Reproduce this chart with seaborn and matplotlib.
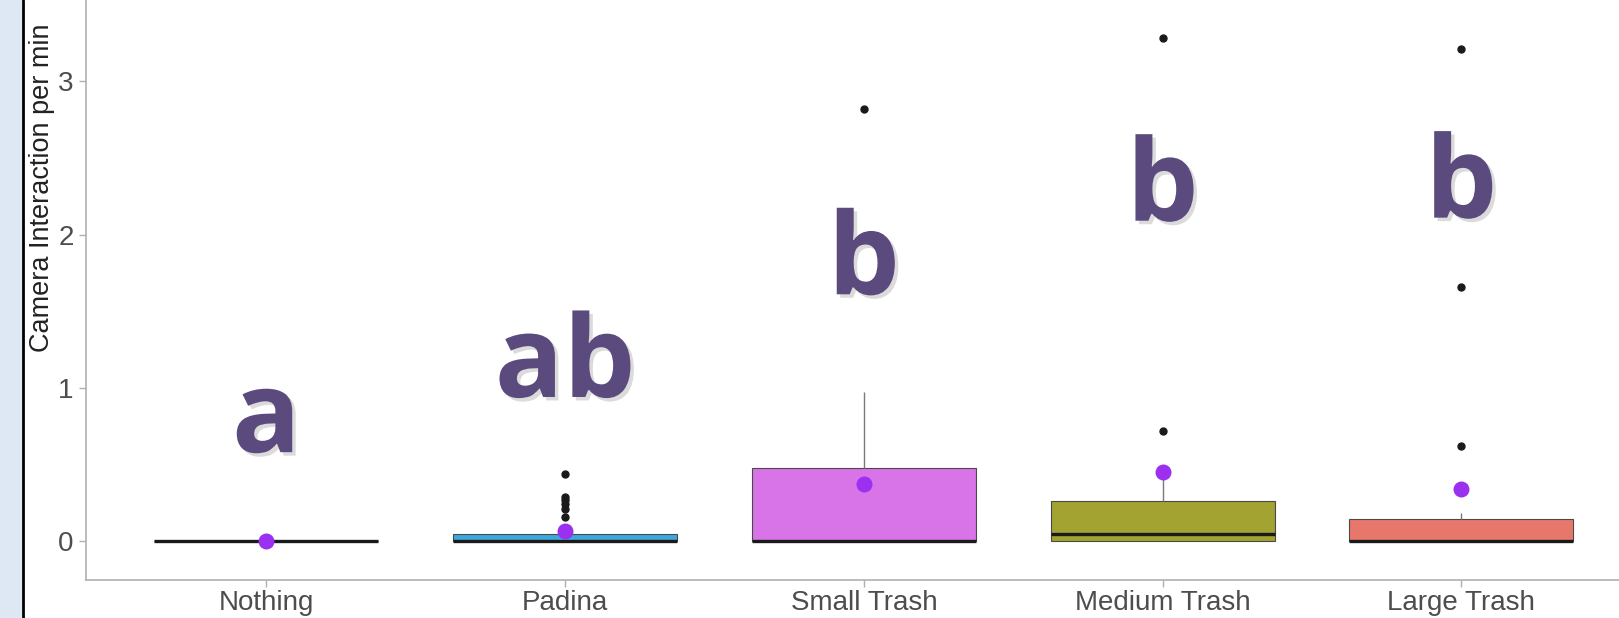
import matplotlib
matplotlib.use('Agg')
import matplotlib.pyplot as plt
import matplotlib.patheffects as pe
from matplotlib.patches import Rectangle
from matplotlib.lines import Line2D
import pandas as pd
import seaborn as sns

# Data
categories = ['Nothing', 'Padina', 'Small Trash', 'Medium Trash', 'Large Trash']
nothing_vals = [0.0] * 12
padina_vals = [0.0] * 17 + [0.02, 0.04, 0.047, 0.047] + [0.16, 0.21, 0.24, 0.27, 0.29, 0.44]
small_vals = [0.0] * 9 + [0.478, 0.52, 0.97, 2.82]
medium_vals = [0.0, 0.0, 0.0, 0.0, 0.02, 0.047, 0.1, 0.11, 0.416, 0.72, 3.28]
large_vals = [0.0] * 10 + [0.02, 0.05, 0.141, 0.18, 0.62, 1.66, 3.21]
mean_vals = [0.0, 0.065, 0.37, 0.45, 0.34]
letters = ['a', 'ab', 'b', 'b', 'b']
letter_y = [0.58, 0.94, 1.61, 2.09, 2.11]
box_colors = ['#00BF7D', '#3ea7de', '#d873e8', '#a2a330', '#e8776b']

groups = [nothing_vals, padina_vals, small_vals, medium_vals, large_vals]
df = pd.DataFrame({
    'group': [c for c, g in zip(categories, groups) for _ in g],
    'value': [v for g in groups for v in g],
})

sns.set_style('white')
plt.rcParams['font.family'] = ['Liberation Sans', 'DejaVu Sans']

fig = plt.figure(figsize=(16.19, 6.18), dpi=100)
ax = fig.add_axes([86 / 1619, 38 / 618, 1 - 86 / 1619, 1 - 38 / 618])

sns.boxplot(data=df, x='group', y='value', hue='group', order=categories,
            palette=dict(zip(categories, box_colors)), saturation=1,
            width=0.75, linecolor='#4a4a4a', linewidth=0.8, legend=False,
            showcaps=False,
            whiskerprops=dict(color='#7a7a7a', linewidth=1),
            medianprops=dict(color='#1a1a1a', linewidth=2.4),
            flierprops=dict(marker='o', markerfacecolor='#1a1a1a',
                            markeredgecolor='#1a1a1a', markersize=5),
            ax=ax)

# group means
sns.stripplot(x=categories, y=mean_vals, order=categories, jitter=False,
              color='#9b30f0', size=11.5, linewidth=0, zorder=5, ax=ax)

# significance letters
for i, (lab, y) in enumerate(zip(letters, letter_y)):
    ax.text(i, y, lab, fontsize=82, fontweight='bold', family='Open Sans',
            color='#5b4a7e', ha='center', va='baseline', zorder=6,
            path_effects=[pe.withSimplePatchShadow(offset=(2.5, -2.5),
                                                   shadow_rgbFace='#888888', alpha=0.3)])

ax.set_xlim(-0.604, 4.528)
ax.set_ylim(-0.254, 3.53)
ax.set_yticks([0, 1, 2, 3])
ax.set_xlabel('')
ax.set_ylabel('Camera Interaction per min', fontsize=19.5, color='#222222')
ax.yaxis.set_label_coords(55 / 1619, 0.697, transform=fig.transFigure)

for s in ['top', 'right']:
    ax.spines[s].set_visible(False)
for s in ['left', 'bottom']:
    ax.spines[s].set_color('#b0b0b0')
    ax.spines[s].set_linewidth(1.2)
ax.tick_params(axis='both', colors='#b0b0b0', length=5, width=1,
               labelsize=20, labelcolor='#4d4d4d', left=True, bottom=True)
ax.tick_params(axis='y', pad=4)
ax.tick_params(axis='x', pad=2.5)

# slide border on the left
fig.add_artist(Rectangle((0, 0), 22 / 1619, 1, transform=fig.transFigure,
                         facecolor='#dde8f4', edgecolor='none'))
fig.add_artist(Line2D([23 / 1619, 23 / 1619], [0, 1], transform=fig.transFigure,
                      color='black', linewidth=2))

fig.savefig('out.png', dpi=100)
